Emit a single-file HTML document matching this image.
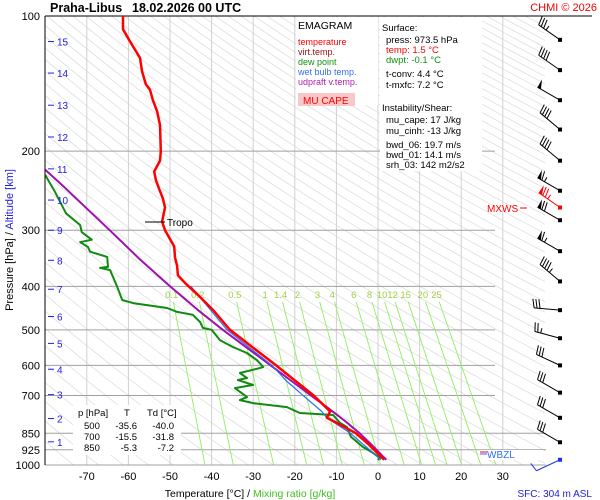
<!DOCTYPE html>
<html><head><meta charset="utf-8">
<style>
body{margin:0;background:#fff;}
svg{display:block;font-family:"Liberation Sans",sans-serif;}
</style></head>
<body>
<svg id="c" width="600" height="500" viewBox="0 0 600 500">
<defs><clipPath id="clip"><rect x="45" y="16" width="500" height="449"/></clipPath></defs>
<g id="bg" clip-path="url(#clip)"></g>
<g id="grid"></g>
<g id="mix" clip-path="url(#clip)"></g>
<g id="series" clip-path="url(#clip)"></g>
<g id="barbs"></g>
<g id="axes"></g>

<text x="50" y="12" font-size="12.5" font-weight="bold">Praha-Libus</text>
<text x="132" y="12" font-size="12.5" font-weight="bold">18.02.2026 00 UTC</text>
<text x="597" y="11" font-size="11" fill="#e00" text-anchor="end">CHMI © 2026</text>

<g>
<rect x="296" y="17" width="82" height="88" fill="#fff"/>
<text x="298" y="29" font-size="10.5">EMAGRAM</text>
<text x="298" y="45" font-size="9" fill="#f00">temperature</text>
<text x="298" y="55" font-size="9" fill="#a01010">virt.temp.</text>
<text x="298" y="65" font-size="9" fill="#109010">dew point</text>
<text x="298" y="75" font-size="9" fill="#3070f0">wet bulb temp.</text>
<text x="298" y="85" font-size="9" fill="#b020b0">udpraft v.temp.</text>
<rect x="298" y="93" width="57" height="13" fill="#f8c8c8"/>
<text x="303" y="104" font-size="10" fill="#f00">MU CAPE</text>
</g>

<g font-size="9.5">
<rect x="380" y="17" width="102" height="154" fill="#fff"/>
<text x="382" y="31">Surface:</text>
<text x="386" y="43">press: 973.5 hPa</text>
<text x="386" y="53" fill="#f00">temp: 1.5 °C</text>
<text x="386" y="63" fill="#109010">dwpt: -0.1 °C</text>
<text x="386" y="77">t-conv: 4.4 °C</text>
<text x="386" y="88">t-mxfc: 7.2 °C</text>
<text x="382" y="111">Instability/Shear:</text>
<text x="386" y="123">mu_cape: 17 J/kg</text>
<text x="386" y="134">mu_cinh: -13 J/kg</text>
<text x="386" y="148">bwd_06: 19.7 m/s</text>
<text x="386" y="158">bwd_01: 14.1 m/s</text>
<text x="386" y="168">srh_03: 142 m2/s2</text>
</g>

<g font-size="9.5">
<rect x="73" y="405" width="108" height="50" fill="#fff"/>
<text x="78" y="416">p [hPa]</text><text x="124" y="416">T</text><text x="147" y="416">Td [°C]</text>
<text x="84" y="429">500</text><text x="137" y="429" text-anchor="end">-35.6</text><text x="174" y="429" text-anchor="end">-40.0</text>
<text x="84" y="440">700</text><text x="137" y="440" text-anchor="end">-15.5</text><text x="174" y="440" text-anchor="end">-31.8</text>
<text x="84" y="451">850</text><text x="137" y="451" text-anchor="end">-5.3</text><text x="174" y="451" text-anchor="end">-7.2</text>
</g>

<line x1="145" y1="222" x2="165" y2="222" stroke="#000"/>
<text x="167" y="226" font-size="10">Tropo</text>
<text x="487" y="212" font-size="10" fill="#f00">MXWS</text>
<line x1="520" y1="208" x2="527" y2="208" stroke="#f00"/>
<rect x="480" y="450" width="63" height="10" fill="#fff"/>
<line x1="480" y1="452" x2="487" y2="452" stroke="#f00"/>
<line x1="480" y1="454" x2="487" y2="454" stroke="#36f"/>
<text x="487" y="458" font-size="10" fill="#3070f0">WBZL</text>

<text x="250" y="497" font-size="10.5" text-anchor="middle">Temperature [°C]  /  <tspan fill="#40c020">Mixing ratio [g/kg]</tspan></text>
<text x="592" y="497" font-size="10" fill="#2020e0" text-anchor="end">SFC: 304 m ASL</text>
<text transform="translate(13,240) rotate(-90)" font-size="11" text-anchor="middle">Pressure [hPa]  /  <tspan fill="#2020e0">Altitude [km]</tspan></text>

<script>
const pressTicks=[100,200,300,400,500,600,700,850,925,1000];
const tempTicks=[-70,-60,-50,-40,-30,-20,-10,0,10,20,30];
const altKm=[1,2,3,4,5,6,7,8,9,10,11,12,13,14,15];
const altP=[888,788,697,612,536,467,406,350,300,257,219,186,158,134,114];
const mixRatios=[0.1,0.2,0.5,1,1.4,2,3,4,6,8,10,12,15,20,25];
const mixLabels=["0.1","0.2","0.5","1","1.4","2","3","4","6","8","10","12","15","20","25"];
const tempP=[100,107,114,119,124,133,142,146,154,163,175,200,210,222,232,243,255,267,287,300,326,345,360,378,393,418,451,500,600,700,760,785,800,850,900,973.5];
const tempT=[-61.3,-61.3,-59.6,-58.4,-57.2,-56.7,-55.8,-54.8,-54.1,-53.1,-52.4,-52.2,-52.4,-53.8,-53.4,-52.6,-51.7,-51.2,-51.9,-51.2,-49,-48.8,-48.3,-48.1,-46.4,-43.3,-39.7,-35.6,-24.5,-15.5,-11.5,-12.3,-10.5,-5.3,-2.2,1.5];
const wbP=[400,500,600,650,700,760,785,850,973.5];
const wbT=[-45,-36.3,-25.5,-22,-18,-13.5,-12.3,-6.6,0.7];
const dewP=[226,247,275,292,303,315,319,327,335,344,362,364,368,401,429,436,447,456,463,480,495,500,527,546,563,584,605,608,624,640,647,663,674,706,717,728,743,766,774,806,823,866,912,940,965,973.5];
const dewT=[-80,-77.6,-75,-71.6,-71.2,-68.8,-71.6,-69.7,-69.2,-65.1,-64.9,-66.8,-64.4,-62.7,-61.5,-58.9,-50.7,-48.3,-44.5,-42.8,-42.1,-40,-38,-34.9,-31.5,-29.1,-27.6,-28.4,-33.2,-31.5,-33.7,-30,-34.4,-31.5,-33.2,-30,-21.9,-18.8,-10.8,-9.1,-7.5,-6.5,-3.6,-1.2,0.5,-0.1];
const parcelP=[220,240,250,300,350,400,450,500,550,600,650,700,750,800,850,900,973.5];
const parcelT=[-80,-75.5,-73.5,-64.5,-57,-50,-43.5,-37.3,-31.3,-25.8,-20.8,-16.1,-11.7,-7.8,-4.4,-1.6,2];
const barbP=[113,132,154,179,210,245,267,285,334,390,452,522,600,690,785,890,973.5];
const barbDir=[305,305,300,310,310,300,305,300,300,310,275,285,295,300,300,300,245];
const barbSpd=[35,40,50,40,40,65,75,70,65,45,30,25,30,30,30,30,10];

const NS='http://www.w3.org/2000/svg';
const X0=45,Y0=16,YB=465,X_AT0=378,KPX=4.16;
function yP(p){return Y0+(YB-Y0)*Math.log10(p/100);}
function xT(t){return X_AT0+t*KPX;}
function mk(tag,attrs,parent){const e=document.createElementNS(NS,tag);for(const k in attrs)e.setAttribute(k,attrs[k]);parent.appendChild(e);return e;}
const bg=document.getElementById('bg'),grid=document.getElementById('grid'),mix=document.getElementById('mix'),ser=document.getElementById('series'),barbs=document.getElementById('barbs'),axes=document.getElementById('axes');

for(let th=200;th<=600;th+=6){
  let d='';
  for(let p=100;p<=1000;p+=15){const T=th*Math.pow(p/1000,0.286)-273.15;d+=(d?'L':'M')+xT(T).toFixed(1)+','+yP(p).toFixed(1);}
  const e=mk('path',{d:d,fill:'none',stroke:'#dadada','stroke-width':0.7},bg);
  
  
}
tempTicks.forEach(t=>{
  const e=mk('line',{x1:xT(t),x2:xT(t),y1:Y0,y2:YB,stroke:'#d0d0d0','stroke-width':1},grid);
  
  
  const l=mk('text',{x:xT(t),y:480,'font-size':11,'text-anchor':'middle'},axes);
  l.textContent=t;
  
  
});
pressTicks.forEach(p=>{
  const xe=p===100?592:(p>=850?546:495);
  const e=mk('line',{x1:X0,x2:xe,y1:yP(p),y2:yP(p),stroke:p===100?'#000':'#a0a0a0','stroke-width':1},grid);
  
  
  const l=mk('text',{x:40,y:yP(p)+4,'font-size':11,'text-anchor':'end'},axes);
  l.textContent=p;
  
  
});
const ax=mk('line',{x1:X0,x2:X0,y1:Y0,y2:YB,stroke:'#000','stroke-width':1},axes);


altKm.forEach((k,i)=>{
  const y=yP(altP[i]);
  const t=mk('line',{x1:48,x2:54,y1:y,y2:y,stroke:'#2020e0'},axes);
  
  
  const l=mk('text',{x:57,y:y+4,'font-size':10,fill:'#2020e0'},axes);
  l.textContent=k;
  
  
});
function tdFromW(w,p){const e=w*p/(622+w);const a=Math.log(e/6.112);return 243.5*a/(17.67-a);}
mixRatios.forEach((w,i)=>{
  const p0=433;
  const e=mk('line',{x1:xT(tdFromW(w,p0)),y1:yP(p0),x2:xT(tdFromW(w,1000)),y2:yP(1000),stroke:'#90ee60','stroke-width':0.9},mix);
  
  
  const l=mk('text',{x:xT(tdFromW(w,415)),y:298,'font-size':9.5,fill:'#a0d040','text-anchor':'middle'},mix);
  l.textContent=mixLabels[i];
  
  
});
function line(P,T,color,w,name){
  let d='';P.forEach((p,i)=>{d+=(i?'L':'M')+xT(T[i]).toFixed(1)+','+yP(p).toFixed(1);});
  const e=mk('path',{d:d,fill:'none',stroke:color,'stroke-width':w,'stroke-linejoin':'round'},ser);
  
  
}
line(dewP,dewT,'#108a10',2,'dew-point-line');
line(parcelP,parcelT,'#a010b0',2,'updraft-line');
line(wbP,wbT,'#2a70f0',1.2,'wet-bulb-line');
line(tempP,tempT,'#a01010',1,'virtual-temp-line');
line(tempP,tempT,'#f00',2.5,'temperature-line');
barbP.forEach((p,i)=>{
  const y=yP(p),x=560,sfc=i===barbP.length-1;
  const col=i===6?'#f00':(sfc?'#2030f0':'#000');
  const g=mk('g',{},barbs);
  
  
  const a=(barbDir[i])*Math.PI/180;
  const ux=Math.sin(a),uy=-Math.cos(a),L=26;
  const ex=x+ux*L,ey=y+uy*L;
  mk('line',{x1:x,y1:y,x2:ex,y2:ey,stroke:col,'stroke-width':1},g);
  mk('rect',{x:x-2,y:y-2,width:4,height:4,fill:col},g);
  let s=barbSpd[i],pos=0;
  const px=-uy,py=ux;
  while(s>=50){const bx=ex-ux*pos,by=ey-uy*pos;mk('polygon',{points:`${bx},${by} ${bx+px*9},${by+py*9} ${bx-ux*4},${by-uy*4}`,fill:col},g);pos+=5;s-=50;}
  while(s>=10){const bx=ex-ux*pos,by=ey-uy*pos;mk('line',{x1:bx,y1:by,x2:bx+px*9+ux*2,y2:by+py*9+uy*2,stroke:col},g);pos+=3;s-=10;}
  if(s>=5){const bx=ex-ux*pos,by=ey-uy*pos;mk('line',{x1:bx,y1:by,x2:bx+px*5,y2:by+py*5,stroke:col},g);}
});
</script>
</svg>
</body></html>
